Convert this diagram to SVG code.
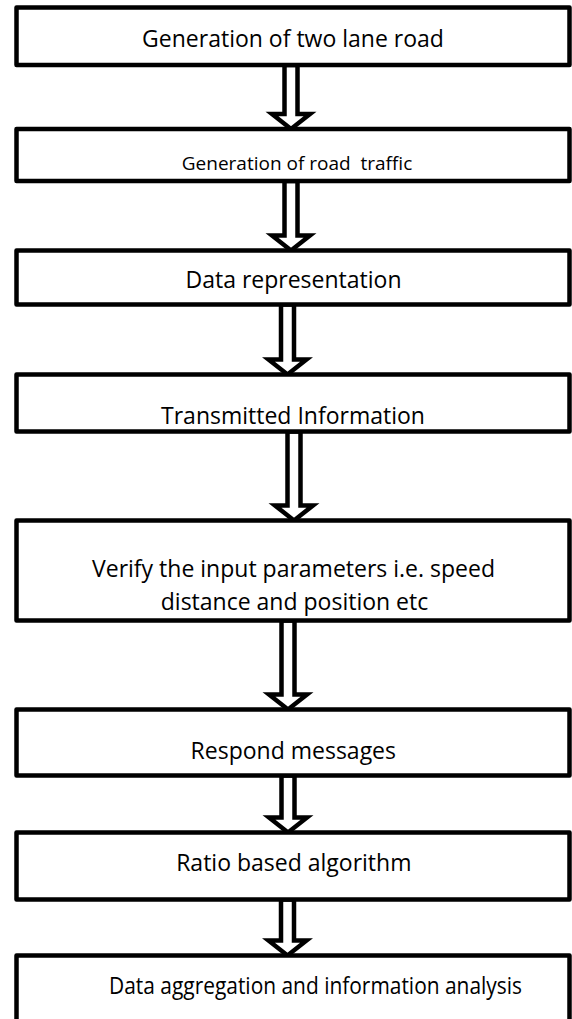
<svg xmlns="http://www.w3.org/2000/svg" width="572" height="1019" viewBox="0 0 572 1019">
<style>
.box{fill:#fff;stroke:#000;stroke-width:4.5;stroke-linejoin:round}
.arr{fill:#fff;stroke:#000;stroke-width:4.5;stroke-linejoin:miter;stroke-miterlimit:10}
.t{font-family:"Open Sans","Noto Sans","Liberation Sans",sans-serif;font-size:23px;fill:#000;text-anchor:middle}
</style>
<rect width="572" height="1019" fill="#fff"/>
<g id="connectors">
<path class="arr" d="M284.5,65 V114 H272 L291,129 L310,114 H297.5 V65 Z"/>
<path class="arr" d="M284.5,181 V235.5 H272 L291,250.5 L310,235.5 H297.5 V181 Z"/>
<path class="arr" d="M281,304.5 V359.5 H268.5 L287.5,374.5 L306.5,359.5 H294 V304.5 Z"/>
<path class="arr" d="M287.5,431.5 V505.5 H275 L294,520.5 L313,505.5 H300.5 V431.5 Z"/>
<path class="arr" d="M281.5,620.5 V694.5 H269 L288,709.5 L307,694.5 H294.5 V620.5 Z"/>
<path class="arr" d="M281.5,775.5 V817.5 H269 L288,832.5 L307,817.5 H294.5 V775.5 Z"/>
<path class="arr" d="M281,899.5 V940.5 H268.5 L287.5,955.5 L306.5,940.5 H294 V899.5 Z"/>
</g>
<g id="n1"><rect class="box" x="16.5" y="7.5" width="553" height="57.5"/><text class="t" x="293" y="47">Generation of two lane road</text></g>
<g id="n2"><rect class="box" x="16.5" y="129" width="553" height="52"/><text class="t" x="297" y="170" style="font-size:19px" xml:space="preserve">Generation of road  traffic</text></g>
<g id="n3"><rect class="box" x="16.5" y="250.5" width="553" height="54"/><text class="t" x="293.5" y="288">Data representation</text></g>
<g id="n4"><rect class="box" x="16.5" y="374.5" width="553" height="57"/><text class="t" x="293" y="424">Transmitted Information</text></g>
<g id="n5"><rect class="box" x="16.5" y="520.5" width="553" height="100"/><text class="t" x="293.5" y="577">Verify the input parameters i.e. speed</text><text class="t" x="294.5" y="610">distance and position etc</text></g>
<g id="n6"><rect class="box" x="16.5" y="709.5" width="553" height="66"/><text class="t" x="293.3" y="759">Respond messages</text></g>
<g id="n7"><rect class="box" x="16.5" y="832.5" width="553" height="67"/><text class="t" x="293.8" y="871">Ratio based algorithm</text></g>
<g id="n8"><rect class="box" x="16.5" y="955.5" width="553" height="80"/><text class="t" x="315.5" y="994" textLength="413" lengthAdjust="spacingAndGlyphs">Data aggregation and information analysis</text></g>
</svg>
